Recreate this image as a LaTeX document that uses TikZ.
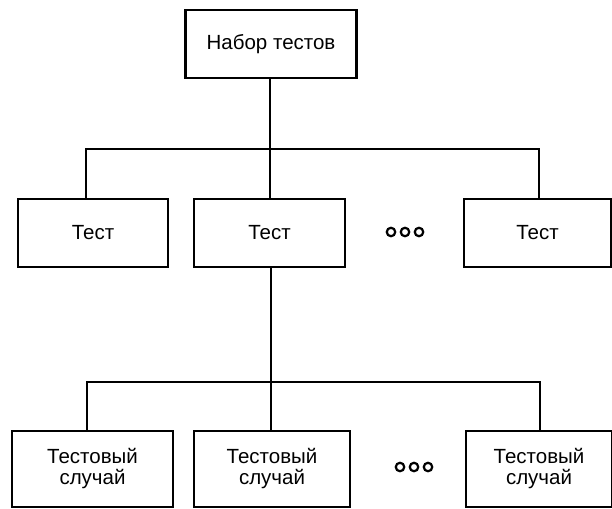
\documentclass[tikz,border=0pt]{standalone}
\usepackage{fontspec}
\setmainfont{Liberation Sans}
\begin{document}
\begin{tikzpicture}[x=1pt,y=-1pt,
  box/.style={draw,line width=2.8pt,fill=white,inner sep=0pt,align=center,font=\fontsize{20.5}{21}\selectfont},
  wire/.style={line width=2.8pt},
  dot/.style={circle,draw,line width=2.2pt,minimum size=8.5pt,inner sep=0pt}]
\useasboundingbox (0,0) rectangle (612,508);
% top
\node[box,minimum width=171pt,minimum height=68pt] (root) at (271,44) {Набор тестов};
% tier 2
\node[box,minimum width=150pt,minimum height=68pt] (t1) at (93,233) {Тест};
\node[box,minimum width=151pt,minimum height=68pt] (t2) at (269.5,233) {Тест};
\node[box,minimum width=147pt,minimum height=68pt] (t3) at (537.5,233) {Тест};
\node[dot] (d1) at (391,232) {};
\node[dot] (d2) at (405,232) {};
\node[dot] (d3) at (419,232) {};
% tier 3
\node[box,minimum width=161pt,minimum height=76pt] (c1) at (92.5,469) {Тестовый\\случай};
\node[box,minimum width=156pt,minimum height=76pt] (c2) at (272,469) {Тестовый\\случай};
\node[box,minimum width=146pt,minimum height=76pt] (c3) at (539,469) {Тестовый\\случай};
\node[dot] (e1) at (400,467) {};
\node[dot] (e2) at (414,467) {};
\node[dot] (e3) at (428,467) {};
% connectors
\coordinate (b1) at (270,149);
\draw[wire] (b1 |- root.south) -- (b1);
\draw[wire] (t1.north -| 86,0) |- (b1) -| (t3.north -| 539,0);
\draw[wire] (b1) -- (t2.north -| b1);
\coordinate (b2) at (271,382);
\draw[wire] (t2.south -| b2) -- (b2);
\draw[wire] (c1.north -| 87,0) |- (b2) -| (c3.north -| 540,0);
\draw[wire] (b2) -- (c2.north -| b2);
\end{tikzpicture}
\end{document}
